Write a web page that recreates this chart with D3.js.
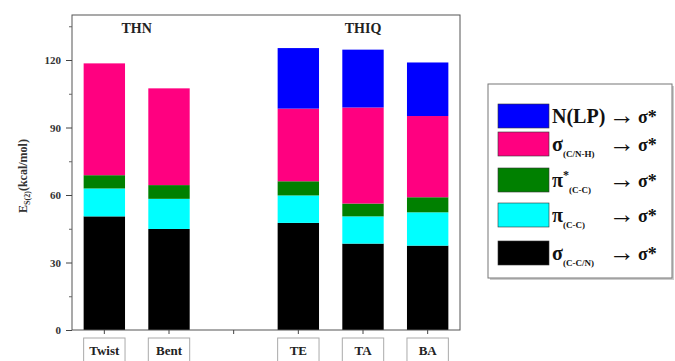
<!DOCTYPE html>
<html>
<head>
<meta charset="utf-8">
<script src="https://cdn.jsdelivr.net/npm/d3@7"></script>
<style>
  body { margin: 0; background: #fff; }
  svg text { font-family: "Liberation Serif", "DejaVu Serif", serif; font-weight: bold; }
</style>
</head>
<body>
<div id="chart"></div>
<script>
// slots on the x axis (third one is the gap between THN and THIQ)
const slots = ["Twist", "Bent", "gap", "TE", "TA", "BA"];
const conformers = ["Twist", "Bent", "TE", "TA", "BA"];

// stacked from the bottom up, kcal/mol
const sigmaCCN = [50.5, 44.9, 47.6, 38.4, 37.5];
const piCC = [12.4, 13.4, 12.2, 12.1, 14.8];
const piStarCC = [5.9, 6.1, 6.3, 5.7, 6.7];
const sigmaCNH = [49.7, 43.0, 32.3, 42.7, 36.1];
const nLP = [0, 0, 26.9, 25.7, 23.8];

const yTicks = [0, 30, 60, 90, 120];
const yMinor = [15, 45, 75, 105, 135];

const series = [
    { key: "sigmaCCN", values: sigmaCCN, color: "#000000" },
    { key: "piCC", values: piCC, color: "#00ffff" },
    { key: "piStarCC", values: piStarCC, color: "#008000" },
    { key: "sigmaCNH", values: sigmaCNH, color: "#ff0080" },
    { key: "nLP", values: nLP, color: "#0000ff" }
];

const width = 675, height = 361;
const margin = { left: 72, right: 215, top: 15, bottom: 31 };

const svg = d3.select("#chart").append("svg")
    .attr("width", width)
    .attr("height", height);

const x = d3.scaleBand()
    .domain(slots)
    .range([margin.left, width - margin.right])
    .paddingInner(0.36)
    .paddingOuter(0.18);

const y = d3.scaleLinear()
    .domain([0, 140])
    .range([height - margin.bottom, margin.top]);

// build stack rows
const rows = conformers.map(function (c, i) {
    const row = { name: c };
    series.forEach(function (s) { row[s.key] = s.values[i]; });
    return row;
});
const stacked = d3.stack().keys(series.map(s => s.key))(rows);

svg.append("g").selectAll("g")
    .data(stacked)
    .enter()
    .append("g")
    .attr("fill", (d, i) => series[i].color)
    .selectAll("rect")
    .data(d => d.filter(p => p[1] - p[0] > 0))
    .enter()
    .append("rect")
    .attr("x", d => x(d.data.name))
    .attr("width", x.bandwidth())
    .attr("y", d => y(d[1]))
    .attr("height", d => y(d[0]) - y(d[1]));

// frame
svg.append("rect")
    .attr("x", margin.left)
    .attr("y", margin.top)
    .attr("width", width - margin.right - margin.left)
    .attr("height", height - margin.bottom - margin.top)
    .attr("fill", "none")
    .attr("stroke", "#555")
    .attr("stroke-width", 1);

// y axis
const yAxis = svg.append("g")
    .attr("transform", "translate(" + margin.left + ",0)")
    .call(d3.axisLeft(y).tickValues(yTicks).tickSize(6).tickPadding(5));
yAxis.attr("font-family", null).attr("font-size", null);
yAxis.select(".domain").remove();
yAxis.selectAll("line").attr("stroke", "#444");
yAxis.selectAll("text").attr("font-size", 11).attr("fill", "#333");

// minor y ticks
svg.append("g")
    .attr("transform", "translate(" + margin.left + ",0)")
    .call(d3.axisLeft(y).tickValues(yMinor).tickSize(3).tickFormat(""))
    .call(g => g.select(".domain").remove())
    .selectAll("line").attr("stroke", "#666");

// x axis ticks
const xAxis = svg.append("g")
    .attr("transform", "translate(0," + (height - margin.bottom) + ")")
    .call(d3.axisBottom(x).tickSize(4).tickFormat(""));
xAxis.select(".domain").remove();
xAxis.selectAll("line").attr("stroke", "#444");

// x labels in boxes
const labelG = svg.append("g").selectAll("g")
    .data(conformers)
    .enter()
    .append("g");
labelG.append("rect")
    .attr("x", d => x(d))
    .attr("y", height - margin.bottom + 8)
    .attr("width", x.bandwidth())
    .attr("height", 24)
    .attr("fill", "#fff")
    .attr("stroke", "#aaa")
    .attr("stroke-width", 1);
labelG.append("text")
    .attr("x", d => x(d) + x.bandwidth() / 2)
    .attr("y", height - margin.bottom + 25)
    .attr("text-anchor", "middle")
    .attr("font-size", 13)
    .attr("fill", "#222")
    .text(d => d);

// group titles
svg.append("text")
    .attr("x", (x("Twist") + x("Bent") + x.bandwidth()) / 2)
    .attr("y", 33)
    .attr("text-anchor", "middle")
    .attr("font-size", 14)
    .attr("fill", "#222")
    .text("THN");
svg.append("text")
    .attr("x", x("TA") + x.bandwidth() / 2)
    .attr("y", 33)
    .attr("text-anchor", "middle")
    .attr("font-size", 14)
    .attr("fill", "#222")
    .text("THIQ");

// y label
const yl = svg.append("text")
    .attr("transform", "translate(27,176) rotate(-90)")
    .attr("text-anchor", "middle")
    .attr("font-size", 12)
    .attr("fill", "#333");
yl.append("tspan").text("E");
yl.append("tspan").attr("font-size", 8).attr("dy", 3).text("S(2)");
yl.append("tspan").attr("dy", -3).text("(kcal/mol)");

// legend
const legend = svg.append("g");
legend.append("rect")
    .attr("x", 490).attr("y", 86)
    .attr("width", 184).attr("height", 194)
    .attr("fill", "#ccc");
legend.append("rect")
    .attr("x", 488).attr("y", 84)
    .attr("width", 184).attr("height", 194)
    .attr("fill", "#fff")
    .attr("stroke", "#777")
    .attr("stroke-width", 1);

const legendRows = [
    { color: "#0000ff", cy: 116, base: "N(LP)", sup: "", sub: "" },
    { color: "#ff0080", cy: 144, base: "σ", sup: "", sub: "(C/N-H)" },
    { color: "#008000", cy: 180, base: "π", sup: "*", sub: "(C-C)" },
    { color: "#00ffff", cy: 215, base: "π", sup: "", sub: "(C-C)" },
    { color: "#000000", cy: 253, base: "σ", sup: "", sub: "(C-C/N)" }
];

legendRows.forEach(function (r) {
    legend.append("rect")
        .attr("x", 498).attr("y", r.cy - 12)
        .attr("width", 51).attr("height", 24)
        .attr("fill", r.color)
        .attr("stroke", "#333")
        .attr("stroke-width", 0.6);
    const t = legend.append("text")
        .attr("x", 552)
        .attr("y", r.cy + 7)
        .attr("font-size", 20)
        .attr("fill", "#111");
    t.append("tspan").text(r.base);
    if (r.sup) {
        t.append("tspan").attr("font-size", 12).attr("dy", -8).text(r.sup);
        t.append("tspan").attr("font-size", 9).attr("dy", 14).text(r.sub);
    } else if (r.sub) {
        t.append("tspan").attr("font-size", 9).attr("dy", 6).text(r.sub);
    }
    // arrow and target orbital share one column
    legend.append("text")
        .attr("x", 635)
        .attr("y", r.cy + 8)
        .attr("text-anchor", "end")
        .attr("font-size", 26)
        .style("font-weight", "normal")
        .attr("fill", "#111")
        .text("→");
    legend.append("text")
        .attr("x", 638)
        .attr("y", r.cy + 7)
        .attr("font-size", 18)
        .attr("fill", "#111")
        .text("σ*");
});
</script>
</body>
</html>
